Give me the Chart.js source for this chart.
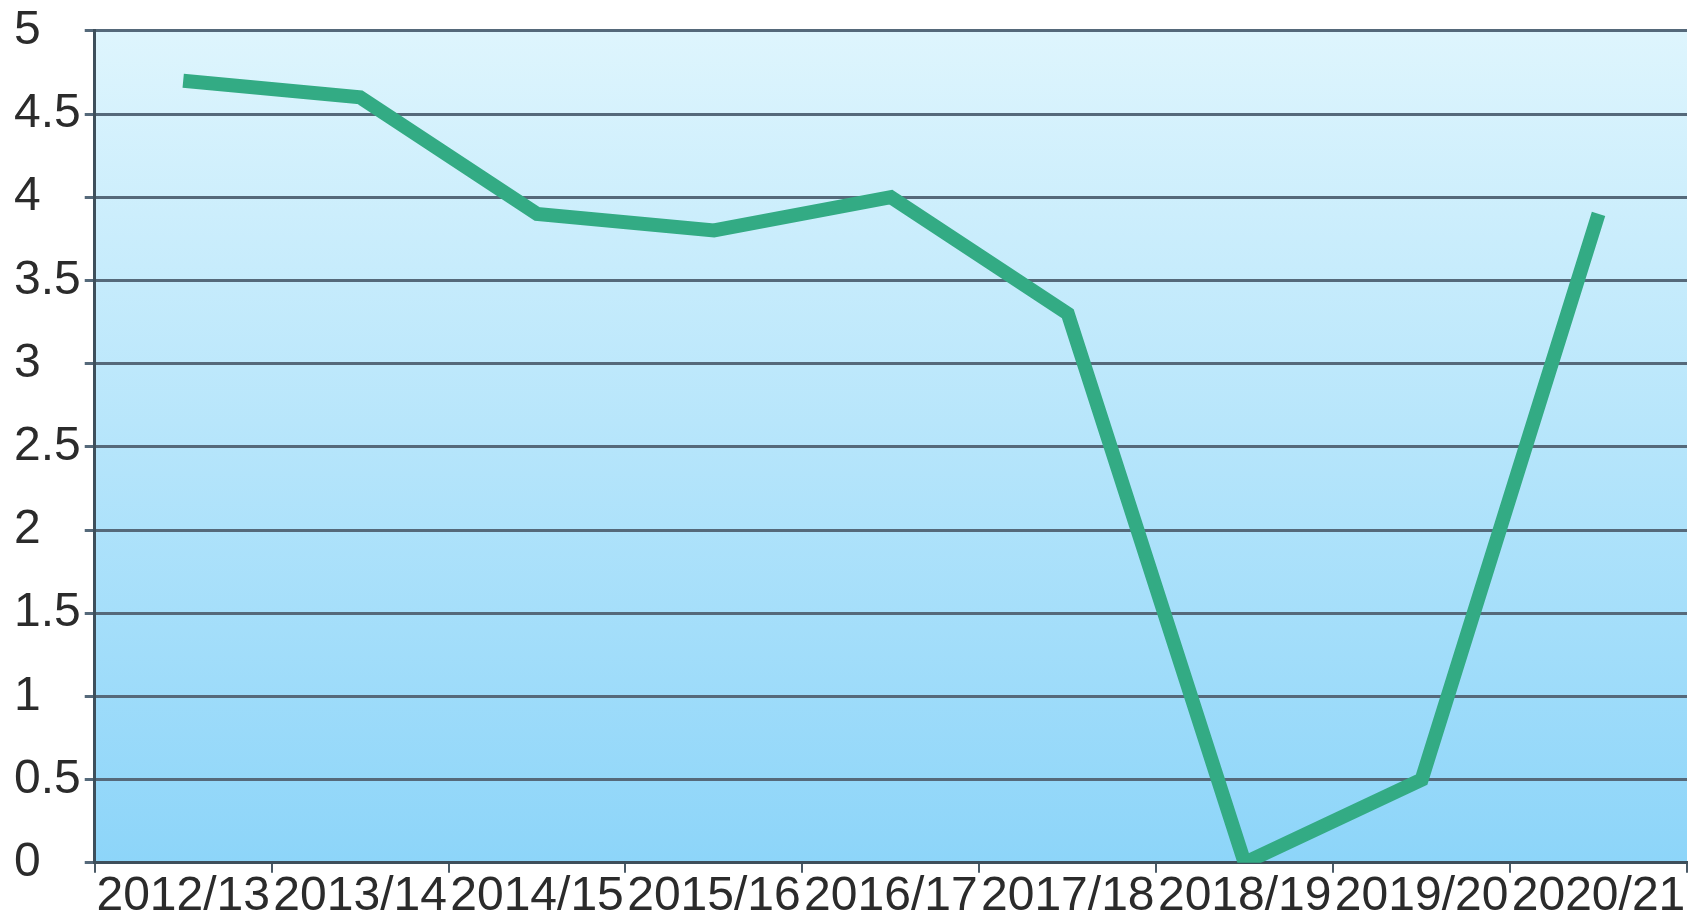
<!DOCTYPE html>
<html>
<head>
<meta charset="utf-8">
<script src="https://cdn.jsdelivr.net/npm/chart.js@4/dist/chart.umd.min.js"></script>
<style>
  html, body { margin: 0; padding: 0; background: #ffffff; }
  #wrap { width: 1688px; height: 924px; }
</style>
</head>
<body>
<div id="wrap"><canvas id="lineChart"></canvas></div>
<script>
const categories = ['2012/13', '2013/14', '2014/15', '2015/16', '2016/17', '2017/18', '2018/19', '2019/20', '2020/21'];
const values = [4.7, 4.6, 3.9, 3.8, 4.0, 3.3, 0, 0.5, 3.9];
const yTicks = [0, 0.5, 1, 1.5, 2, 2.5, 3, 3.5, 4, 4.5, 5];

// gradient behind the plot area
const plotBackground = {
  id: 'plotBackground',
  beforeDraw(chart) {
    const { ctx, chartArea: a } = chart;
    const g = ctx.createLinearGradient(0, a.top, 0, a.bottom);
    g.addColorStop(0, '#def5fd');
    g.addColorStop(1, '#8dd5f9');
    ctx.save();
    ctx.fillStyle = g;
    ctx.fillRect(a.left, a.top, a.right - a.left, a.bottom - a.top);
    ctx.restore();
  }
};

const ctx = document.getElementById('lineChart').getContext('2d');
const lineChart = new Chart(ctx, {
  type: 'line',
  data: {
    labels: categories,
    datasets: [{
      data: values,
      borderColor: '#33ab84',
      borderWidth: 14,
      borderCapStyle: 'butt',
      borderJoinStyle: 'miter',
      pointRadius: 0,
      tension: 0
    }]
  },
  options: {
    responsive: true,
    maintainAspectRatio: false,
    animation: false,
    layout: {
      padding: { top: 4, right: 1, left: 14, bottom: 3 }
    },
    scales: {
      x: {
        offset: true,
        grid: {
          offset: true,
          drawOnChartArea: false,
          color: '#4a5a66',
          lineWidth: 2,
          tickLength: 10
        },
        border: { color: '#3e4f5b', width: 3 },
        ticks: {
          autoSkip: false,
          maxRotation: 0,
          padding: 2,
          color: '#2b2b2b',
          font: { family: 'Liberation Sans', size: 48, lineHeight: 0.92 }
        }
      },
      y: {
        min: 0,
        max: 5,
        afterBuildTicks: function (axis) {
          axis.ticks = yTicks.map(v => ({ value: v }));
        },
        grid: {
          color: '#55697a',
          lineWidth: 3,
          tickLength: 10
        },
        border: { color: '#3e4f5b', width: 3 },
        ticks: {
          padding: 2,
          crossAlign: 'far',
          color: '#2b2b2b',
          font: { family: 'Liberation Sans', size: 48 },
          callback: function (val) {
            return String(val);
          }
        }
      }
    },
    plugins: {
      legend: { display: false },
      tooltip: { enabled: false }
    }
  },
  plugins: [plotBackground]
});
</script>
</body>
</html>
